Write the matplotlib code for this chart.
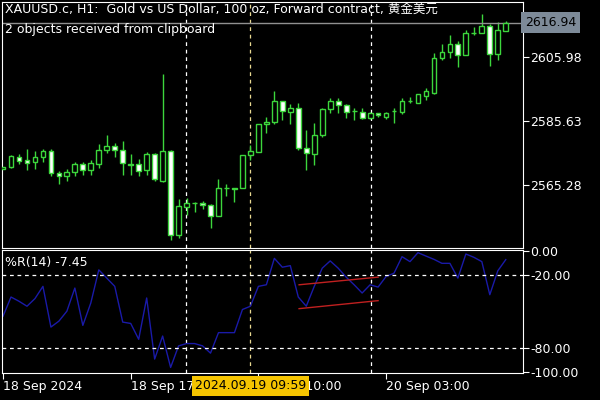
"""XAUUSD H1 candles with Williams %R, MetaTrader style."""

import matplotlib
matplotlib.use("Agg")
import matplotlib.pyplot as plt
from matplotlib.patches import Rectangle

plt.rcParams["font.family"] = ["DejaVu Sans", "Noto Sans CJK SC"]

# OHLC
OPEN = [2570.5, 2571.0, 2574.2, 2573.2, 2572.6, 2574.2, 2576.1, 2569.1, 2568.1, 2569.4,
        2571.9, 2570.0, 2571.9, 2576.4, 2577.7, 2576.4, 2571.8, 2571.9, 2570.0, 2575.1,
        2566.5, 2576.1, 2549.4, 2558.3, 2559.4, 2559.5, 2558.9, 2555.4, 2564.2, 2564.1,
        2564.3, 2574.8, 2575.8, 2584.7, 2585.3, 2592.0, 2588.5, 2589.8, 2577.0, 2575.1,
        2581.2, 2589.4, 2592.0, 2590.7, 2588.9, 2588.5, 2586.6, 2588.2, 2586.9, 2588.7,
        2588.5, 2591.9, 2591.3, 2593.6, 2594.5, 2605.7, 2607.6, 2610.1, 2606.6, 2613.5,
        2613.6, 2615.8, 2606.9, 2614.3]
HIGH = [2571.0, 2574.8, 2575.1, 2576.7, 2576.1, 2576.7, 2576.7, 2569.7, 2570.4, 2572.6,
        2572.6, 2573.2, 2578.3, 2581.2, 2578.6, 2579.3, 2575.1, 2573.5, 2575.8, 2575.5,
        2600.6, 2576.4, 2560.8, 2561.1, 2559.9, 2560.2, 2559.2, 2567.2, 2565.6, 2564.3,
        2574.8, 2578.0, 2584.7, 2586.9, 2595.2, 2592.0, 2591.0, 2591.3, 2582.8, 2585.0,
        2589.8, 2592.9, 2592.9, 2591.0, 2589.8, 2589.8, 2588.5, 2588.2, 2588.5, 2589.8,
        2592.9, 2593.3, 2594.2, 2596.1, 2607.3, 2610.1, 2613.0, 2611.1, 2614.6, 2615.5,
        2619.6, 2616.5, 2617.1, 2617.4]
LOW = [2570.4, 2570.7, 2571.9, 2570.0, 2570.4, 2572.6, 2568.1, 2565.6, 2566.5, 2568.1,
       2568.5, 2568.5, 2570.7, 2575.5, 2574.2, 2568.5, 2568.5, 2568.1, 2568.5, 2566.5,
       2566.2, 2547.8, 2548.4, 2555.7, 2556.7, 2557.6, 2551.6, 2555.4, 2561.8, 2559.9,
       2564.3, 2573.2, 2575.8, 2581.8, 2584.7, 2585.9, 2584.7, 2576.4, 2570.0, 2571.6,
       2580.5, 2588.2, 2588.2, 2586.6, 2585.9, 2586.3, 2586.3, 2586.9, 2586.3, 2585.0,
       2587.9, 2591.3, 2591.3, 2592.3, 2594.2, 2605.0, 2605.7, 2602.8, 2606.6, 2613.0,
       2613.6, 2603.1, 2605.0, 2614.3]
CLOSE = [2570.9, 2574.5, 2572.9, 2572.3, 2574.2, 2576.1, 2569.1, 2568.1, 2569.4, 2571.9,
         2570.0, 2572.3, 2576.4, 2577.7, 2576.4, 2572.3, 2571.6, 2569.7, 2575.1, 2567.2,
         2576.1, 2549.4, 2558.6, 2559.5, 2559.6, 2558.9, 2555.4, 2564.3, 2564.4, 2564.0,
         2574.8, 2576.1, 2584.7, 2585.3, 2592.0, 2588.8, 2589.8, 2577.0, 2575.5, 2581.2,
         2589.4, 2592.0, 2590.7, 2588.5, 2588.7, 2586.6, 2588.2, 2587.5, 2588.2, 2588.9,
         2592.0, 2592.1, 2594.2, 2595.2, 2605.7, 2607.6, 2610.1, 2606.6, 2613.6, 2613.7,
         2615.8, 2606.9, 2614.6, 2616.94]

WPR = [-54.1, -38.3, -41.8, -45.9, -39.6, -29.5, -63.1, -58.2, -50.0, -30.9,
       -61.7, -43.2, -15.9, -22.7, -29.5, -59.0, -60.1, -73.2, -39.1, -89.5,
       -70.5, -96.4, -78.6, -76.7, -76.7, -78.6, -84.6, -67.7, -67.7, -67.7,
       -48.6, -45.9, -29.5, -28.2, -6.4, -13.7, -12.4, -38.3, -45.9, -29.5,
       -14.5, -8.5, -14.5, -21.9, -28.2, -35.0, -28.2, -30.1, -21.4, -18.6,
       -5.0, -9.1, -1.7, -4.5, -7.2, -10.5, -10.5, -22.7, -2.8, -5.5,
       -9.1, -36.4, -16.7, -7.45]

PRICE_TICKS = [2565.28, 2585.63, 2605.98]
WPR_TICKS = [0, -20, -80, -100]
WPR_LEVELS = [-20, -80]
# red channel drawn on %R: (x0, y0, x1, y1) in bar index / %R units
CHANNEL = [(37.1, -28.2, 47.0, -21.9), (37.1, -47.9, 47.0, -41.3)]
VLINES = [(22.9, "white"), (31.0, "#e8d890"), (46.1, "white")]
TIME_TICKS = [0, 16, 32, 48]
TIME_LABELS = ["18 Sep 2024", "18 Sep 17:00", "19 Sep 10:00", "20 Sep 03:00"]
LAST_PRICE = 2616.94

GREEN = "#3cd63c"
XLIM = (-0.13, 65.16)
FS = 9

fig = plt.figure(figsize=(6, 4), dpi=100, facecolor="black")
ax = fig.add_axes([2 / 600, 152 / 400, 521 / 600, 246 / 400], facecolor="black")
ax2 = fig.add_axes([2 / 600, 27 / 400, 521 / 600, 123 / 400], facecolor="black")

for a in (ax, ax2):
    a.set_xlim(*XLIM)
    for s in a.spines.values():
        s.set_color("white")
    a.yaxis.tick_right()
    a.tick_params(axis="y", colors="white", labelsize=FS, length=4, direction="out", pad=1)
    a.tick_params(axis="x", colors="white", labelsize=FS, length=4, pad=1)
    for xv, c in VLINES:
        a.axvline(xv, color=c, lw=0.9, ls=(0, (3, 3)))

# candles
for i, (o, h, l, c) in enumerate(zip(OPEN, HIGH, LOW, CLOSE)):
    ax.vlines(i, l, h, color=GREEN, lw=1, zorder=2)
    bull = c >= o
    lo, hi = min(o, c), max(o, c)
    ax.add_patch(Rectangle((i - 0.3, lo), 0.6, max(hi - lo, 0.15),
                           facecolor="black" if bull else "white",
                           edgecolor=GREEN, lw=1, zorder=3))

ax.set_ylim(2545.2, 2623.5)
ax.set_yticks(PRICE_TICKS)
ax.set_yticklabels([f"{v:.2f}" for v in PRICE_TICKS])
ax.set_xticks([])
ax.axhline(LAST_PRICE, color="#909090", lw=1)
ax.text(1.004, LAST_PRICE, f"{LAST_PRICE:.2f}", transform=ax.get_yaxis_transform(),
        va="center", ha="left", fontsize=FS, color="black",
        bbox=dict(boxstyle="square,pad=0.3", fc="#7d8a98", ec="none"))
ax.text(0.006, 0.995, "XAUUSD.c, H1:  Gold vs US Dollar, 100 oz, Forward contract, 黄金美元",
        transform=ax.transAxes, va="top", ha="left", fontsize=FS, color="white")
ax.text(0.006, 0.915, "2 objects received from clipboard", transform=ax.transAxes,
        va="top", ha="left", fontsize=FS, color="white")

# Williams %R
ax2.plot(range(len(WPR)), WPR, color="#1a1aa8", lw=1)
for lv in WPR_LEVELS:
    ax2.axhline(lv, color="white", lw=0.9, ls=(0, (3, 3)))
for x0, y0, x1, y1 in CHANNEL:
    ax2.plot([x0, x1], [y0, y1], color="#c02020", lw=1)
ax2.set_ylim(-101, 0.5)
ax2.set_yticks(WPR_TICKS)
ax2.set_yticklabels([f"{v:.2f}" for v in WPR_TICKS])
ax2.set_xticks(TIME_TICKS)
ax2.set_xticklabels(TIME_LABELS, ha="left")
ax2.text(0.006, 0.95, f"%R(14) {WPR[-1]:.2f}", transform=ax2.transAxes,
         va="top", ha="left", fontsize=FS, color="white")
ax2.text(31.0, -0.105, "2024.09.19 09:59", transform=ax2.get_xaxis_transform(),
         ha="center", va="center", fontsize=FS, color="black", zorder=10, clip_on=False,
         bbox=dict(boxstyle="square,pad=0.25", fc="#f5c400", ec="none"))

fig.savefig("out.png", dpi=100, facecolor="black")
